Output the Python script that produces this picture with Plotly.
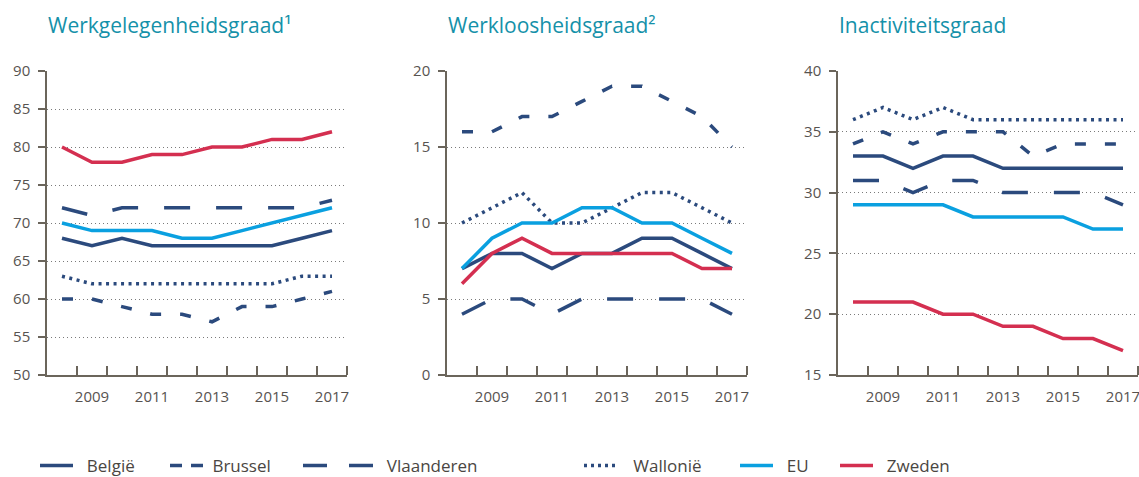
import plotly.graph_objects as go

# ---------------- data ----------------
years = list(range(2008, 2018))
year_labels = [2009, 2011, 2013, 2015, 2017]
series_names = ["België", "Brussel", "Vlaanderen", "Wallonië", "EU", "Zweden"]
panel_titles = ["Werkgelegenheidsgraad¹", "Werkloosheidsgraad²", "Inactiviteitsgraad"]

werk_belgie = [68, 67, 68, 67, 67, 67, 67, 67, 68, 69]
werk_brussel = [60, 60, 59, 58, 58, 57, 59, 59, 60, 61]
werk_vlaanderen = [72, 71, 72, 72, 72, 72, 72, 72, 72, 73]
werk_wallonie = [63, 62, 62, 62, 62, 62, 62, 62, 63, 63]
werk_eu = [70, 69, 69, 69, 68, 68, 69, 70, 71, 72]
werk_zweden = [80, 78, 78, 79, 79, 80, 80, 81, 81, 82]

wl_belgie = [7, 8, 8, 7, 8, 8, 9, 9, 8, 7]
wl_brussel = [16, 16, 17, 17, 18, 19, 19, 18, 17, 15]
wl_vlaanderen = [4, 5, 5, 4, 5, 5, 5, 5, 5, 4]
wl_wallonie = [10, 11, 12, 10, 10, 11, 12, 12, 11, 10]
wl_eu = [7, 9, 10, 10, 11, 11, 10, 10, 9, 8]
wl_zweden = [6, 8, 9, 8, 8, 8, 8, 8, 7, 7]

in_belgie = [33, 33, 32, 33, 33, 32, 32, 32, 32, 32]
in_brussel = [34, 35, 34, 35, 35, 35, 33, 34, 34, 34]
in_vlaanderen = [31, 31, 30, 31, 31, 30, 30, 30, 30, 29]
in_wallonie = [36, 37, 36, 37, 36, 36, 36, 36, 36, 36]
in_eu = [29, 29, 29, 29, 28, 28, 28, 28, 27, 27]
in_zweden = [21, 21, 21, 20, 20, 19, 19, 18, 18, 17]

y_ranges = [(50, 90), (0, 20), (15, 40)]

# ---------------- styling ----------------
OFF = 0  # body margin is removed below, the figure starts at (0, 0) of the window
W, H = 1139 - OFF, 477 - OFF
DARK = "#2b4a7d"
EU_C = "#0aa0e0"
RED = "#d42f50"
AXIS_C = "#6b655b"
GRID_C = "#7a7a7a"
TICK_FONT = dict(family="Open Sans", size=15, color="#575350")
TITLE_C = "#1591a9"

colors = [DARK, DARK, DARK, DARK, EU_C, RED]
dashes = ["solid", "11px,19px", "26px,26px", "3px,4.5px", "solid", "solid"]
legend_dashes = ["solid", "12px,9px", "24px,22px", "3px,4px", "solid", "solid"]
legend_line_x = [40, 170, 303, 584, 740, 840]
legend_item_w = [33, 33, 70, 31, 33, 33]
legend_text_pad = [2, 1, 2, 3, 2, 2]   # extra gap between key and label (nbsp count)

panel_data = [
    [werk_belgie, werk_brussel, werk_vlaanderen, werk_wallonie, werk_eu, werk_zweden],
    [wl_belgie, wl_brussel, wl_vlaanderen, wl_wallonie, wl_eu, wl_zweden],
    [in_belgie, in_brussel, in_vlaanderen, in_wallonie, in_eu, in_zweden],
]
x_px = [(47, 347), (447, 747), (838, 1138)]
y_px = (71, 375)


def fx(px):
    return (px - OFF) / W


def fy(px):
    return 1 - (px - OFF) / H


fig = go.Figure()

for p, series in enumerate(panel_data):
    sfx = "" if p == 0 else str(p + 1)
    for s, vals in enumerate(series):
        fig.add_trace(go.Scatter(
            x=years, y=vals, mode="lines", name=series_names[s],
            line=dict(color=colors[s], width=3.5, dash=dashes[s]),
            xaxis="x" + sfx, yaxis="y" + sfx, showlegend=False,
            hoverinfo="skip",
        ))

# legend entries (one legend per item so that spacing matches)
for s, name in enumerate(series_names):
    lg = "legend" if s == 0 else f"legend{s + 1}"
    fig.add_trace(go.Scatter(
        x=[None], y=[None], mode="lines",
        name="\u00a0" * legend_text_pad[s] + name,
        line=dict(color=colors[s], width=3.5, dash=legend_dashes[s]),
        legend=lg, showlegend=True,
    ))
    fig.update_layout(**{lg: dict(
        x=fx(legend_line_x[s] - 5), xanchor="left",
        y=fy(466), yanchor="middle",
        orientation="h", itemwidth=max(30, legend_item_w[s]),
        font=dict(family="Open Sans", size=17, color="#4a4642"),
        bgcolor="rgba(0,0,0,0)", borderwidth=0,
        itemclick=False, itemdoubleclick=False,
    )})

for p in range(3):
    sfx = "" if p == 0 else str(p + 1)
    x0, x1 = x_px[p]
    fig.update_layout(**{
        "xaxis" + sfx: dict(
            domain=[fx(x0), min(1.0, fx(x1))], anchor="y" + sfx,
            range=[years[0] - 0.5, years[-1] + 0.5],
            tickvals=year_labels, ticks="", showgrid=False, zeroline=False,
            showline=True, linecolor=AXIS_C, linewidth=1.5,
            tickfont=TICK_FONT, ticklabelstandoff=7, automargin=False,
            ticklabeloverflow="allow",
            minor=dict(tickvals=[y + 0.5 for y in years], ticks="inside",
                       ticklen=9, tickcolor=AXIS_C, tickwidth=1.5, showgrid=False),
            fixedrange=True,
        ),
        "yaxis" + sfx: dict(
            domain=[fy(y_px[1]), fy(y_px[0])], anchor="x" + sfx,
            range=list(y_ranges[p]), dtick=5, tick0=0,
            showgrid=True, gridcolor=GRID_C, gridwidth=1, griddash="1px,3px",
            zeroline=False, showline=True, linecolor=AXIS_C, linewidth=1.5,
            ticks="outside", ticklen=7, tickcolor=AXIS_C, tickwidth=1.5,
            tickfont=TICK_FONT, ticklabelstandoff=5, automargin=False,
            fixedrange=True,
        ),
    })
    fig.add_annotation(
        text=panel_titles[p], xref="paper", yref="paper",
        x=fx(x0), y=fy(25), xanchor="left", yanchor="middle",
        showarrow=False, font=dict(family="Open Sans", size=21, color=TITLE_C),
        borderpad=0,
    )

fig.update_layout(
    width=W, height=H, margin=dict(l=0, r=0, t=0, b=0, autoexpand=False),
    paper_bgcolor="white", plot_bgcolor="white",
    showlegend=True,
)

fig.write_html(
    "out.html",
    config={"displayModeBar": False},
    post_script="document.body.style.margin='0';document.body.style.overflow='hidden';",
)
